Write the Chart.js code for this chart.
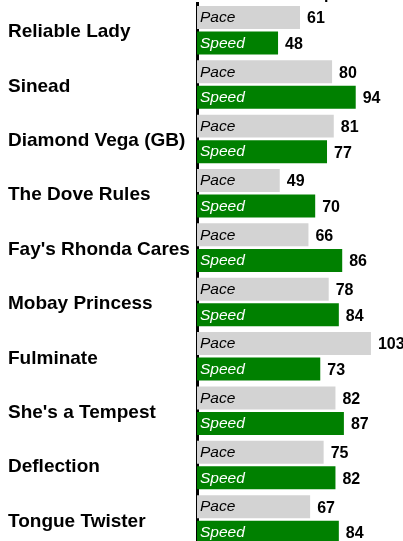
<!DOCTYPE html>
<html>
<head>
<meta charset="utf-8">
<script src="https://cdn.jsdelivr.net/npm/chart.js@4/dist/chart.umd.min.js"></script>
<style>
  html, body { margin: 0; padding: 0; background: #fff; overflow: hidden; }
  #wrap { position: absolute; left: 0; top: -13px; width: 403px; height: 574px; }
</style>
</head>
<body>
<div id="wrap"><canvas id="c"></canvas></div>
<script>
// Horses and their ratings
const horses = ["Reliable Lady", "Sinead", "Diamond Vega (GB)", "The Dove Rules", "Fay's Rhonda Cares",
                "Mobay Princess", "Fulminate", "She's a Tempest", "Deflection", "Tongue Twister"];
const pace  = [61, 80, 81, 49, 66, 78, 103, 82, 75, 67];
const speed = [48, 94, 77, 70, 86, 84, 73, 87, 82, 84];
const seriesNames = ["Pace", "Speed"];

const FONT = "'Liberation Sans', Arial, sans-serif";

// Writes the series name inside each bar and its value just past the bar end
const barText = {
  id: 'barText',
  afterDatasetsDraw(chart) {
    const ctx = chart.ctx;
    const left = chart.chartArea.left;
    ctx.save();
    chart.data.datasets.forEach((ds, di) => {
      const meta = chart.getDatasetMeta(di);
      meta.data.forEach((bar, i) => {
        ctx.textBaseline = 'middle';
        ctx.textAlign = 'left';
        ctx.font = 'italic 15.5px ' + FONT;
        ctx.fillStyle = di === 0 ? '#000' : '#fff';
        ctx.fillText(ds.label, left + 3, bar.y + 0.5);
        ctx.font = 'bold 16px ' + FONT;
        ctx.fillStyle = '#000';
        ctx.fillText(String(ds.data[i]), bar.x + 7, bar.y + 1.5);
      });
    });
    ctx.restore();
  }
};

new Chart(document.getElementById('c'), {
  type: 'bar',
  data: {
    labels: horses,
    datasets: [
      { label: seriesNames[0], data: pace,  backgroundColor: '#d3d3d3' },
      { label: seriesNames[1], data: speed, backgroundColor: '#008000' }
    ]
  },
  options: {
    indexAxis: 'y',
    responsive: true,
    maintainAspectRatio: false,
    animation: false,
    datasets: { bar: { categoryPercentage: 0.94, barPercentage: 0.9 } },
    layout: { padding: { left: 8, right: 0, top: 0, bottom: 0 } },
    plugins: {
      legend: { display: false },
      tooltip: { enabled: false },
      title: {
        display: true,
        text: 'Pace and Speed',
        fullSize: false,
        color: '#000',
        font: { family: FONT, size: 16, weight: 'bold', lineHeight: 1.0 },
        padding: { top: 0, bottom: 0 }
      }
    },
    scales: {
      x: { display: false, min: 0, max: 122 },
      y: {
        grid: { display: false, drawTicks: false },
        border: { display: true, color: '#000', width: 3 },
        ticks: {
          crossAlign: 'far',
          labelOffset: 2,
          color: '#000',
          font: { family: FONT, size: 19, weight: 'bold' }
        },
        afterFit(scale) { scale.width = 189; }
      }
    }
  },
  plugins: [barText]
});
</script>
</body>
</html>
